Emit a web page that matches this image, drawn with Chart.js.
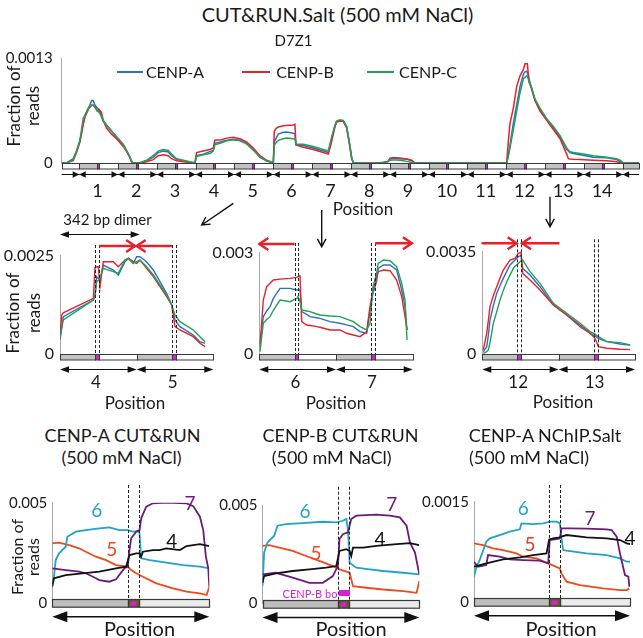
<!DOCTYPE html>
<html>
<head>
<meta charset="utf-8">
<script src="https://cdn.jsdelivr.net/npm/chart.js@4.4.0/dist/chart.umd.min.js"></script>
<style>
body { margin: 0; background: #fff; }
#fig { position: relative; width: 643px; height: 638px; overflow: hidden; font-family: Lato, "Open Sans", sans-serif; color: #1a1a1a; }
#fig canvas { position: absolute; }
.t { position: absolute; white-space: nowrap; line-height: 1; transform: translate(-50%, -50%); }
.leg { position: absolute; height: 2px; }
svg { position: absolute; left: 0; top: 0; pointer-events: none; }
</style>
</head>
<body>
<div id="fig"></div>
<script>
// all read values are in units of 1e-4 (fraction of reads)
const UNIT = 1e-4;

// D7Z1 overview, x = position in monomers (monomer k spans k-1 .. k)
const topNums = [1, 2, 3, 4, 5, 6, 7, 8, 9, 10, 11, 12, 13, 14];
const topX = [-0.45, -0.325, -0.154, -0.068, 0.018, 0.104, 0.147, 0.233, 0.276, 0.319, 0.362, 0.405, 0.465, 0.516, 0.576, 0.619, 0.705, 0.834, 0.963, 1.135, 1.264, 1.307, 1.35, 1.393,
  1.564, 1.736, 1.908, 2.037, 2.165, 2.294, 2.38, 2.509, 2.68, 2.852, 2.981,
  3.024, 3.196, 3.368, 3.454, 3.496, 3.668, 3.797, 3.969, 4.14, 4.312, 4.484, 4.656, 4.828, 5.0,
  5.026, 5.086, 5.129, 5.257, 5.343, 5.515, 5.558, 5.584, 5.773, 6.03, 6.288, 6.417, 6.503, 6.589, 6.632, 6.718, 6.803, 6.889, 6.958, 7.018, 7.061,
  7.662, 7.834, 7.92, 7.962, 8.005, 8.091, 8.177, 8.263, 8.349, 8.435, 8.521, 8.564, 8.649,
  11.011, 11.054, 11.097, 11.183, 11.269, 11.355, 11.441, 11.484, 11.527, 11.544, 11.57, 11.587, 11.656, 11.741, 11.87, 12.042, 12.214, 12.386, 12.557, 12.6, 12.643, 12.729, 12.901, 13.245, 13.588, 13.846, 13.932, 14.017, 14.42];
const topA = [0, 0, 0.53, 1.48, 2.62, 4.9, 5.85, 6.8, 7.18, 7.75, 7.75, 7.18, 6.8, 6.61, 5.66, 5.2, 4.71, 3.95, 3.19, 2.24, 1.1, 0.72, 0.15, 0,
  0, 0.27, 0.72, 1.29, 1.48, 1.37, 0.91, 0.46, 0.27, 0.1, 0,
  0.91, 1.1, 1.41, 1.56, 2.43, 2.62, 2.81, 2.93, 2.81, 2.43, 1.67, 0.72, 0.27, 0,
  2.62, 3.2, 3.57, 3.8, 3.84, 3.69, 3.57, 2.24, 2.17, 1.86, 1.48, 1.29, 3.0, 4.6, 5.09, 5.2, 5.17, 4.52, 2.62, 0.72, 0,
  0, 0.08, 0.15, 0.27, 0.61, 0.68, 0.65, 0.61, 0.55, 0.49, 0.35, 0.27, 0,
  0, 1.0, 2.24, 4.9, 7.18, 9.46, 10.98, 11.29, 11.37, 11.18, 10.8, 10.41, 9.27, 7.75, 6.61, 5.47, 4.33, 3.19, 1.67, 1.48, 1.29, 1.18, 1.03, 0.72, 0.65, 0.42, 0.19, 0, 0];
const topB = [0, 0, 0.3, 1.3, 2.6, 4.71, 5.66, 6.61, 6.88, 7.18, 7.1, 6.99, 6.42, 6.61, 6.23, 5.28, 4.33, 3.57, 3.0, 2.05, 1.1, 0.65, 0.15, 0,
  0, 0.15, 0.42, 0.91, 1.03, 0.91, 0.53, 0.27, 0.15, 0.05, 0,
  1.29, 1.48, 1.67, 1.86, 2.81, 2.89, 3.08, 3.19, 3.0, 2.62, 1.86, 0.91, 0.34, 0.04,
  3.95, 4.33, 4.45, 4.6, 4.65, 4.71, 4.79, 2.24, 1.94, 1.67, 1.29, 1.1, 2.62, 4.52, 5.09, 5.2, 5.17, 4.33, 2.43, 0.53, 0,
  0, 0.05, 0.11, 0.2, 0.46, 0.57, 0.55, 0.53, 0.5, 0.49, 0.4, 0.34, 0,
  0, 2.62, 4.9, 6.8, 9.46, 10.8, 11.55, 12.3, 12.3, 12.3, 10.98, 10.2, 9.08, 7.75, 6.42, 5.28, 4.14, 3.0, 1.1, 0.53, 0.49, 0.46, 0.42, 0.34, 0.27, 0.15, 0, 0, 0];
const topC = [0, 0, 0.4, 1.48, 2.81, 5.5, 5.9, 6.72, 7.0, 7.1, 7.18, 6.88, 6.54, 6.23, 5.85, 5.28, 4.71, 3.95, 3.27, 2.32, 1.18, 0.8, 0.27, 0,
  0.04, 0.34, 0.91, 1.48, 1.67, 1.56, 1.1, 0.53, 0.34, 0.15, 0.04,
  0.8, 1.03, 1.18, 1.48, 2.24, 2.51, 2.74, 2.89, 2.74, 2.36, 1.6, 0.72, 0.27, 0,
  2.24, 2.6, 2.81, 3.0, 3.08, 3.0, 3.0, 2.32, 2.32, 2.05, 1.67, 1.48, 3.19, 4.71, 5.2, 5.36, 5.28, 4.52, 2.62, 0.72, 0,
  0, 0.05, 0.1, 0.19, 0.34, 0.38, 0.38, 0.33, 0.27, 0.2, 0.11, 0.08, 0,
  0, 0.8, 1.86, 4.14, 6.42, 8.7, 10.41, 10.6, 10.8, 10.7, 10.41, 10.0, 9.27, 7.94, 6.8, 5.47, 4.52, 3.38, 1.86, 1.6, 1.41, 1.3, 1.18, 0.91, 0.72, 0.53, 0.35, 0, 0];

// zoom on monomers 4-5
const m1Nums = [4, 5];
const m1X = [3.0, 3.022, 3.043, 3.435, 3.457, 3.478, 3.5, 3.522, 3.565, 3.696, 3.761, 3.848, 3.891, 3.957, 4.0, 4.043, 4.13, 4.217, 4.304, 4.391, 4.457, 4.5, 4.565, 4.739, 4.826, 4.891];
const m1A = [4.05, 7.0, 9.54, 13.77, 14.5, 19.68, 19.2, 18.83, 22.64, 21.37, 20.1, 23.48, 24.32, 23.06, 24.75, 24.75, 23.48, 21.37, 18.41, 15.46, 12.5, 8.7, 7.01, 4.9, 3.21, 2.79];
const m1B = [4.48, 9.97, 10.5, 14.19, 22.04, 22.2, 22.21, 17.15, 23.48, 23.48, 22.21, 23.9, 24.32, 23.48, 23.06, 23.9, 21.79, 19.68, 17.15, 14.61, 12.5, 7.01, 6.17, 4.48, 2.79, 1.94];
const m1C = [3.63, 6.5, 8.7, 13.77, 15.0, 18.41, 18.8, 19.26, 21.79, 20.95, 20.52, 23.9, 24.32, 23.06, 23.48, 23.9, 22.21, 20.1, 17.57, 15.03, 12.5, 9.97, 8.28, 6.17, 4.48, 3.21];

// zoom on monomers 6-7
const m2Nums = [6, 7];
const m2X = [5.009, 5.052, 5.096, 5.14, 5.183, 5.27, 5.4, 5.488, 5.505, 5.531, 5.553, 5.618, 5.661, 5.748, 5.791, 5.922, 6.052, 6.139, 6.226, 6.313, 6.4, 6.443, 6.482, 6.53, 6.551, 6.617, 6.704, 6.791, 6.857, 6.9, 6.926];
const m2A = [3.25, 11.11, 12.8, 14.07, 16.5, 19.48, 19.48, 18.98, 19.0, 18.98, 12.59, 11.8, 11.11, 10.8, 10.62, 9.64, 9.15, 8.7, 8.16, 6.69, 6.2, 13.08, 18.0, 21.44, 25.38, 26.36, 26.36, 24.89, 18.98, 14.07, 7.18];
const m2B = [2.26, 16.03, 19.97, 21.0, 21.93, 22.2, 22.43, 22.72, 22.9, 23.11, 9.64, 8.66, 8.5, 8.16, 8.0, 7.18, 7.18, 6.2, 5.7, 5.21, 6.69, 14.07, 18.98, 22.92, 24.39, 24.89, 24.69, 21.93, 17.02, 11.11, 7.18];
const m2C = [0.79, 9.15, 10.3, 11.11, 13.0, 16.03, 15.54, 16.52, 17.02, 15.54, 13.08, 12.8, 12.59, 11.9, 11.61, 11.3, 11.11, 10.4, 9.64, 8.16, 7.18, 9.15, 19.97, 23.9, 26.85, 27.84, 27.64, 25.87, 20.95, 16.03, 4.23];

// zoom on monomers 12-13
const m3Nums = [12, 13];
const m3X = [11.013, 11.058, 11.079, 11.101, 11.144, 11.189, 11.232, 11.275, 11.32, 11.363, 11.406, 11.429, 11.472, 11.494, 11.507, 11.529, 11.625, 11.756, 11.931, 12.106, 12.28, 12.412, 12.477, 12.52, 12.63, 12.805, 12.936];
const m3A = [0.91, 2.61, 6.5, 11.7, 16.5, 20.8, 23.5, 25.91, 28.3, 30.46, 31.6, 32.16, 33.3, 33.6, 33.86, 29.32, 27.05, 23.07, 16.82, 13.41, 9.43, 7.16, 6.3, 5.45, 4.32, 3.52, 3.18];
const m3B = [1.48, 7.16, 11.5, 16.25, 20.0, 23.07, 26.0, 28.75, 30.5, 32.16, 32.5, 32.73, 34.43, 34.7, 35.0, 27.61, 25.34, 21.93, 16.82, 13.41, 10.0, 7.16, 5.45, 2.61, 2.05, 1.7, 1.6];
const m3C = [0.34, 0.9, 1.48, 4.0, 10.57, 14.5, 18.52, 21.8, 24.77, 27.0, 29.32, 30.0, 31.0, 31.59, 31.9, 32.16, 28.18, 24.2, 17.39, 13.98, 10.57, 7.73, 6.9, 6.02, 4.32, 3.98, 3.18];

// single-monomer profiles, x = bp along the monomer (CENP-B box at 82-94)
const aTealX = [0, 1.8, 3.7, 7.3, 14.6, 16.4, 25.6, 36.5, 51.2, 62.1, 73.1, 82.2, 87.7, 93.2, 95.0, 96.8, 106.0, 124.2, 142.5, 160.8, 171];
const aTealY = [9.67, 13.0, 21.3, 24.7, 28.0, 33.0, 35.5, 36.3, 37.2, 37.7, 36.3, 36.3, 35.5, 35.8, 34.7, 22.2, 21.3, 20.0, 18.8, 18.0, 17.2];
const aPurX = [0, 14.6, 29.2, 36.5, 47.5, 51.2, 62.1, 69.4, 78.6, 82.2, 84.0, 85.9, 91.4, 95.0, 96.8, 102.3, 109.6, 124.2, 146.2, 153.5, 160.8, 164.4, 167.3, 169.9, 171];
const aPurY = [17.2, 16.3, 15.5, 14.7, 12.2, 11.3, 10.5, 11.7, 17.2, 18.0, 26.3, 32.2, 35.5, 36.3, 42.2, 48.0, 49.7, 50.0, 49.7, 48.3, 43.0, 36.3, 23.0, 17.2, 8.0];
const aOrgX = [0, 7.3, 18.3, 29.2, 36.5, 47.5, 58.5, 69.4, 82.2, 85.9, 91.4, 98.7, 113.3, 131.5, 146.2, 160.8, 168.1, 171];
const aOrgY = [29.7, 30.0, 28.8, 27.2, 25.5, 23.0, 21.3, 18.8, 18.0, 16.3, 14.7, 13.0, 9.67, 7.17, 5.5, 4.67, 3.83, 8.0];
const aBlkX = [0, 1.8, 14.6, 32.9, 51.2, 69.4, 80.4, 84.0, 91.4, 95.0, 96.8, 98.7, 109.6, 116.9, 124.2, 138.9, 146.2, 160.8, 171];
const aBlkY = [8.0, 12.2, 13.8, 14.7, 15.5, 17.2, 18.0, 23.8, 24.7, 24.7, 23.0, 25.5, 26.3, 26.3, 27.2, 26.3, 28.3, 29.3, 28.3];

const bTealX = [0, 1.8, 5.5, 12.8, 16.4, 25.6, 43.8, 65.8, 80.4, 87.7, 91.4, 93.2, 95.0, 102.3, 116.9, 131.5, 153.5, 171];
const bTealY = [8.8, 25.9, 31.0, 34.4, 39.5, 40.3, 40.8, 41.5, 41.2, 42.0, 42.9, 37.8, 20.7, 18.2, 17.3, 16.5, 15.6, 14.8];
const bPurX = [0, 14.6, 32.9, 51.2, 65.8, 76.7, 82.2, 84.0, 87.7, 93.2, 96.8, 102.3, 124.2, 138.9, 149.8, 157.1, 160.8, 166.3, 171];
const bPurY = [14.8, 15.6, 13.1, 10.5, 10.5, 13.9, 19.0, 32.7, 35.2, 36.1, 42.9, 44.6, 45.1, 44.6, 43.7, 39.5, 31.0, 25.9, 14.8];
const bOrgX = [0, 7.3, 18.3, 32.9, 47.5, 62.1, 76.7, 84.0, 95.0, 98.7, 113.3, 131.5, 153.5, 168.1, 171];
const bOrgY = [29.3, 29.6, 28.4, 26.7, 24.1, 21.6, 19.0, 17.3, 15.6, 8.8, 8.0, 7.1, 6.3, 5.4, 11.4];
const bBlkX = [0, 1.8, 14.6, 32.9, 51.2, 69.4, 80.4, 84.0, 91.4, 95.0, 96.8, 98.7, 109.6, 124.2, 146.2, 160.8, 171];
const bBlkY = [10.5, 13.9, 15.3, 16.5, 17.3, 18.2, 19.0, 26.7, 27.6, 26.7, 24.1, 28.4, 28.4, 29.3, 30.1, 30.6, 29.6];

const cTealX = [0, 2.6, 6.2, 13.5, 17.2, 28.2, 39.2, 50.2, 52.0, 64.8, 75.8, 83.1, 90.5, 94.1, 95.9, 97.8, 101.4, 123.4, 145.4, 160.0, 167.4, 171];
const cTealY = [3.75, 5.25, 6.25, 9.0, 9.5, 10.0, 10.5, 10.85, 11.75, 11.65, 11.75, 12.0, 12.0, 11.75, 9.5, 7.75, 7.65, 7.25, 7.0, 6.5, 6.0, 6.0];
const cPurX = [0, 4.4, 13.5, 15.4, 28.2, 39.2, 53.8, 72.1, 81.3, 83.1, 94.1, 95.9, 105.1, 123.4, 145.4, 150.9, 156.4, 160.0, 165.5, 169.2, 170.3];
const cPurY = [6.0, 5.25, 5.5, 7.0, 6.75, 6.35, 6.25, 6.15, 5.75, 9.25, 9.5, 11.0, 11.0, 10.95, 10.85, 10.75, 9.75, 7.25, 4.0, 3.75, 2.25];
const cOrgX = [0, 9.9, 20.9, 31.9, 46.5, 53.8, 68.5, 81.3, 94.1, 95.9, 101.4, 116.1, 141.7, 160.0, 167.4, 170.3];
const cOrgY = [8.75, 8.5, 8.0, 7.75, 7.25, 6.75, 6.5, 5.75, 5.0, 4.25, 3.0, 2.5, 2.0, 1.75, 1.75, 2.0];
const cBlkX = [0, 13.5, 31.9, 50.2, 64.8, 79.5, 82.4, 86.8, 94.1, 95.9, 101.4, 123.4, 145.4, 160.0, 167.4, 171];
const cBlkY = [5.25, 5.75, 6.35, 6.65, 7.0, 7.25, 9.35, 9.5, 9.65, 9.75, 10.0, 9.65, 9.5, 9.25, 8.75, 8.65];

const BLUE = '#2e6fc0', RED = '#e8202a', GREEN = '#22a055';
const TEAL = '#22a2c6', PURPLE = '#6a1b7a', ORANGE = '#ee4a1c', BLACK = '#111';
const MAGENTA = '#d81fd8';
// monomer layout: grey part, CENP-B box, white part
const GREY_END = 0.46, BOX_END = 0.51, NUM_AT = 0.47;
const BOX_BP = [82.2, 94.3], MONO_BP = 171;

Chart.defaults.font.family = 'Lato';
const fig = document.getElementById('fig');

function headAt(ctx, x, y, dir, len, half) {
  ctx.beginPath();
  ctx.moveTo(x, y);
  ctx.lineTo(x - dir * len, y - half);
  ctx.lineTo(x - dir * len, y + half);
  ctx.closePath();
  ctx.fill();
}

function decor(o) {
  return {
    id: 'decor',
    afterDatasetsDraw(chart) {
      const ctx = chart.ctx, a = chart.chartArea, xs = chart.scales.x;
      const px = v => xs.getPixelForValue(v);
      const lo = xs.min, hi = xs.max;
      ctx.save();
      if (o.dash) {
        ctx.strokeStyle = '#222';
        ctx.lineWidth = 1;
        ctx.setLineDash([3, 2]);
        o.dash.forEach(v => {
          const X = Math.round(px(v)) + 0.5;
          ctx.beginPath();
          ctx.moveTo(X, a.top + o.dashTop);
          ctx.lineTo(X, a.bottom);
          ctx.stroke();
        });
        ctx.setLineDash([]);
      }
      const rect = (x0, x1, y, h, fill) => {
        x0 = Math.max(x0, lo); x1 = Math.min(x1, hi);
        if (x1 <= x0) return;
        const X0 = Math.round(px(x0)) + 0.5, X1 = Math.round(px(x1)) + 0.5;
        ctx.fillStyle = fill;
        ctx.fillRect(X0, y, X1 - X0, h);
        ctx.strokeRect(X0, y, X1 - X0, h);
      };
      ctx.strokeStyle = '#3a3a3a';
      ctx.lineWidth = 1;
      if (o.strip === 'mono') {
        const y = Math.round(a.bottom) + 0.5;
        for (let k = Math.floor(lo); k < Math.ceil(hi); k++) {
          rect(k, k + GREY_END, y, o.stripH, '#c2c2c2');
          rect(k + BOX_END, k + 1, y, o.stripH, '#ffffff');
          rect(k + GREY_END, k + BOX_END, y, o.stripH, MAGENTA);
        }
      }
      if (o.strip === 'single') {
        const y = Math.round(a.bottom - o.stripH / 2) + 0.5;
        ctx.lineWidth = 1.2;
        rect(0, BOX_BP[0], y, o.stripH, '#bdbdbd');
        rect(BOX_BP[1], MONO_BP, y, o.stripH, '#ececec');
        rect(BOX_BP[0], BOX_BP[1], y, o.stripH, '#625c2a');
        ctx.fillStyle = MAGENTA;
        ctx.fillRect(px(BOX_BP[0]) + 2.5, y + 2, px(BOX_BP[1]) - px(BOX_BP[0]) - 5, o.stripH - 3.5);
        if (o.bbar) {
          ctx.fillStyle = MAGENTA;
          ctx.fillRect(px(BOX_BP[0]) + 1, a.bottom - 13.5, px(BOX_BP[1]) - px(BOX_BP[0]), 6);
        }
      }
      ctx.fillStyle = '#111';
      ctx.strokeStyle = '#111';
      if (o.row === 'bowtie') {
        const y = Math.round(a.bottom + 11) + 0.5;
        ctx.lineWidth = 1;
        ctx.beginPath(); ctx.moveTo(a.left, y); ctx.lineTo(a.right, y); ctx.stroke();
        for (let k = Math.ceil(lo); k <= Math.floor(hi); k++) {
          headAt(ctx, px(k), y, 1, 6.5, 3.2);
          headAt(ctx, px(k), y, -1, 6.5, 3.2);
        }
      }
      if (o.row === 'mono') {
        const y = Math.round(a.bottom + 15) + 0.5;
        ctx.lineWidth = 1.2;
        for (let k = Math.ceil(lo); k < Math.floor(hi); k++) {
          ctx.beginPath(); ctx.moveTo(px(k) + 2, y); ctx.lineTo(px(k + 1) - 2, y); ctx.stroke();
          headAt(ctx, px(k), y, -1, 9, 3.3);
          headAt(ctx, px(k + 1), y, 1, 9, 3.3);
        }
      }
      if (o.row === 'big') {
        const y = a.bottom + 14;
        ctx.lineWidth = 1.6;
        ctx.beginPath(); ctx.moveTo(a.left + 4, y); ctx.lineTo(a.right - 4, y); ctx.stroke();
        headAt(ctx, a.left, y, -1, 15, 5.5);
        headAt(ctx, a.right, y, 1, 15, 5.5);
      }
      if (o.dimer) {
        const [x0, x1, dy] = o.dimer;
        const y = Math.round(a.top + dy) + 0.5;
        ctx.lineWidth = 1;
        ctx.beginPath(); ctx.moveTo(px(x0) + 3, y); ctx.lineTo(px(x1) - 3, y); ctx.stroke();
        headAt(ctx, px(x0), y, -1, 9, 3.3);
        headAt(ctx, px(x1), y, 1, 9, 3.3);
      }
      if (o.red) {
        ctx.strokeStyle = RED;
        ctx.lineWidth = 2.4;
        ctx.lineJoin = 'miter';
        o.red.forEach(([f, t, dy]) => {
          const y = a.top + dy, X0 = px(f), X1 = px(t), d = Math.sign(X1 - X0);
          ctx.beginPath(); ctx.moveTo(X0, y); ctx.lineTo(X1, y); ctx.stroke();
          ctx.beginPath(); ctx.moveTo(X1 - d * 9, y - 6); ctx.lineTo(X1, y); ctx.lineTo(X1 - d * 9, y + 6); ctx.stroke();
        });
      }
      ctx.restore();
    }
  };
}

function makePanel(p) {
  const [bx, by, bw, bh] = p.box;
  const [l, t, r, b] = p.area;
  const c = document.createElement('canvas');
  c.width = bw; c.height = bh;
  c.style.left = bx + 'px'; c.style.top = by + 'px';
  fig.appendChild(c);
  const xt = p.xt || [];
  return new Chart(c, {
    type: 'line',
    data: {
      datasets: p.sets.map(s => ({
        data: s.x.map((v, i) => ({ x: v, y: s.y[i] * UNIT })),
        borderColor: s.color,
        borderWidth: p.lw,
        pointRadius: 0,
        tension: 0,
        order: s.order
      }))
    },
    options: {
      responsive: false,
      animation: false,
      events: [],
      layout: { padding: { left: 0, top: t - by, right: bx + bw - r, bottom: 0 } },
      plugins: { legend: { display: false }, tooltip: { enabled: false } },
      scales: {
        x: {
          type: 'linear', min: p.xr[0], max: p.xr[1],
          grid: { display: false, drawTicks: false },
          border: { display: false },
          afterFit: s => { s.height = by + bh - b; },
          afterBuildTicks: s => { s.ticks = xt.map(v => ({ value: v })); },
          ticks: {
            display: xt.length > 0, autoSkip: false, maxRotation: 0,
            padding: p.xPad || 0, color: '#1a1a1a', font: { size: p.xSize || 17 },
            callback: (v, i) => p.xl[i]
          }
        },
        y: {
          min: 0, max: p.yMax * UNIT,
          grid: { display: false, drawTicks: false },
          border: { color: '#a8a8a8', width: 1 },
          afterFit: s => { s.width = l - bx; },
          afterBuildTicks: s => { s.ticks = [{ value: 0 }, { value: p.yMax * UNIT }]; },
          ticks: { padding: p.yPad, color: '#1a1a1a', font: { size: p.ySize }, callback: (v, i) => p.yl[i] }
        }
      }
    },
    plugins: [decor(p.decor)]
  });
}

const monoTicks = nums => nums.map(k => k - 1 + NUM_AT);
const cenp = (x, a, bb, c) => [
  { x: x, y: a, color: BLUE, order: 2 },
  { x: x, y: bb, color: RED, order: 1 },
  { x: x, y: c, color: GREEN, order: 0 }
];

// overview
makePanel({
  box: [0, 40, 643, 162], area: [61.7, 49, 639, 163], xr: [-0.45, 14.42],
  yMax: 13, yl: ['0', '0.0013'], ySize: 15, yPad: 9, lw: 1.5,
  xt: monoTicks(topNums), xl: topNums.map(String), xPad: 17, xSize: 18,
  sets: cenp(topX, topA, topB, topC),
  decor: { strip: 'mono', stripH: 5.5, row: 'bowtie' }
});

makePanel({
  box: [0, 210, 225, 185], area: [60, 255.7, 213.3, 354.3], xr: [3, 5],
  yMax: 25, yl: ['0', '0.0025'], ySize: 16, yPad: 6, lw: 1.4,
  xt: monoTicks(m1Nums), xl: m1Nums.map(String), xPad: 18, xSize: 17,
  sets: cenp(m1X, m1A, m1B, m1C),
  decor: {
    strip: 'mono', stripH: 5.5, row: 'mono',
    dash: [3 + GREY_END, 3 + BOX_END, 4 + GREY_END, 4 + BOX_END], dashTop: -10.7,
    red: [[3 + BOX_END, 3.98, -9.7], [4 + GREY_END, 4.0, -9.7]],
    dimer: [3, 4.04, -21.7]
  }
});

makePanel({
  box: [198, 210, 222, 185], area: [259.3, 252.7, 412.7, 354.3], xr: [5, 7],
  yMax: 30, yl: ['0', '0.003'], ySize: 16, yPad: 6, lw: 1.4,
  xt: monoTicks(m2Nums), xl: m2Nums.map(String), xPad: 18, xSize: 17,
  sets: cenp(m2X, m2A, m2B, m2C),
  decor: {
    strip: 'mono', stripH: 5.5, row: 'mono',
    dash: [5 + GREY_END, 5 + BOX_END, 6 + GREY_END, 6 + BOX_END], dashTop: -9.7,
    red: [[5 + GREY_END, 5.0, -8.7], [6 + BOX_END, 6.99, -9.4]]
  }
});

makePanel({
  box: [420, 210, 223, 185], area: [482.3, 251.7, 635, 354.3], xr: [11, 13],
  yMax: 35, yl: ['0', '0.0035'], ySize: 16, yPad: 6, lw: 1.4,
  xt: monoTicks(m3Nums), xl: m3Nums.map(String), xPad: 18, xSize: 17,
  sets: cenp(m3X, m3A, m3B, m3C),
  decor: {
    strip: 'mono', stripH: 5.5, row: 'mono',
    dash: [11 + GREY_END, 11 + BOX_END, 12 + GREY_END, 12 + BOX_END], dashTop: -12.4,
    red: [[10.99, 11 + GREY_END - 0.01, -8.4], [12.01, 11 + BOX_END + 0.01, -8.4]]
  }
});

const four = (tx, ty, px, py, ox, oy, kx, ky) => [
  { x: ox, y: oy, color: ORANGE, order: 3 },
  { x: tx, y: ty, color: TEAL, order: 2 },
  { x: px, y: py, color: PURPLE, order: 1 },
  { x: kx, y: ky, color: BLACK, order: 0 }
];

makePanel({
  box: [0, 475, 215, 158], area: [52.3, 502.7, 209.3, 602.7], xr: [0, MONO_BP],
  yMax: 50, yl: ['0', '0.005'], ySize: 15, yPad: 5, lw: 1.8, xl: [],
  sets: four(aTealX, aTealY, aPurX, aPurY, aOrgX, aOrgY, aBlkX, aBlkY),
  decor: { strip: 'single', stripH: 7.7, row: 'big', dash: BOX_BP, dashTop: -17.7 }
});

makePanel({
  box: [213, 475, 212, 158], area: [262.5, 505, 419.3, 603.5], xr: [0, MONO_BP],
  yMax: 50, yl: ['0', '0.005'], ySize: 15, yPad: 5, lw: 1.8, xl: [],
  sets: four(bTealX, bTealY, bPurX, bPurY, bOrgX, bOrgY, bBlkX, bBlkY),
  decor: { strip: 'single', stripH: 7.7, row: 'big', dash: BOX_BP, dashTop: -18.3, bbar: true }
});

makePanel({
  box: [416, 475, 227, 158], area: [474, 501.7, 630, 601.7], xr: [0, MONO_BP],
  yMax: 15, yl: ['0', '0.0015'], ySize: 15, yPad: 5, lw: 1.8, xl: [],
  sets: four(cTealX, cTealY, cPurX, cPurY, cOrgX, cOrgY, cBlkX, cBlkY),
  decor: { strip: 'single', stripH: 7.7, row: 'big', dash: BOX_BP, dashTop: -16.7 }
});

// texts
function txt(s, x, y, size, color, rot) {
  const d = document.createElement('div');
  d.className = 't';
  d.textContent = s;
  d.style.left = x + 'px';
  d.style.top = y + 'px';
  d.style.fontSize = size + 'px';
  if (color) d.style.color = color;
  if (rot) d.style.transform = 'translate(-50%, -50%) rotate(-90deg)';
  fig.appendChild(d);
  return d;
}

txt('CUT&RUN.Salt (500 mM NaCl)', 337.5, 14, 20);
txt('D7Z1', 293.5, 40, 15);
[[BLUE, 116.7, 143.3, 'CENP-A', 175], [RED, 241.7, 270, 'CENP-B', 305], [GREEN, 366.7, 394.3, 'CENP-C', 428]].forEach(([c, x0, x1, s, cx]) => {
  const d = document.createElement('div');
  d.className = 'leg';
  d.style.left = x0 + 'px'; d.style.width = (x1 - x0) + 'px'; d.style.top = '71px'; d.style.background = c;
  fig.appendChild(d);
  txt(s, cx, 72, 16);
});
txt('Fraction of', 13, 106, 17, null, true);
txt('reads', 32, 106, 17, null, true);
txt('Position', 363, 208, 17);

txt('342 bp dimer', 107.5, 218.5, 15);
txt('Fraction of', 12, 313, 17, null, true);
txt('reads', 33, 313, 17, null, true);
txt('Position', 135, 402, 17);
txt('Position', 336, 402, 17);
txt('Position', 563, 401, 17);

txt('CENP-A CUT&RUN', 122.5, 435, 18);
txt('(500 mM NaCl)', 121.5, 457, 18);
txt('CENP-B CUT&RUN', 340.5, 435, 18);
txt('(500 mM NaCl)', 331.7, 457, 18);
txt('CENP-A NChIP.Salt', 545, 435, 18);
txt('(500 mM NaCl)', 529, 457, 18);
txt('Fraction of', 16.7, 557, 16, null, true);
txt('reads', 33.3, 557, 16, null, true);
txt('Position', 139.5, 628, 20);
txt('Position', 351, 628, 20);
txt('Position', 561, 628, 20);

[[96.7, 509.3, '6', TEAL], [190, 501.7, '7', PURPLE], [111.7, 548.3, '5', ORANGE], [171.7, 540, '4', BLACK],
 [305, 510, '6', TEAL], [391.7, 503.3, '7', PURPLE], [316, 551.7, '5', ORANGE], [380, 538.3, '4', BLACK],
 [523.3, 507.3, '6', TEAL], [590, 516.7, '7', PURPLE], [530, 543.3, '5', '#e83a22'], [630, 536.7, '4', BLACK]
].forEach(([x, y, s, c]) => txt(s, x, y, 19, c));
txt('CENP-B bo', 310, 593, 11, MAGENTA);

// pointer arrows from the overview to the zoomed panels
const NS = 'http://www.w3.org/2000/svg';
const svg = document.createElementNS(NS, 'svg');
svg.setAttribute('width', 643); svg.setAttribute('height', 638);
fig.appendChild(svg);
[[233.3, 203.3, 201.7, 225], [321.7, 210, 321.7, 246.7], [550, 196.7, 550, 226.7]].forEach(([x0, y0, x1, y1]) => {
  const ang = Math.atan2(y1 - y0, x1 - x0), L = 9;
  const h1 = [x1 - L * Math.cos(ang - 0.5), y1 - L * Math.sin(ang - 0.5)];
  const h2 = [x1 - L * Math.cos(ang + 0.5), y1 - L * Math.sin(ang + 0.5)];
  const path = document.createElementNS(NS, 'path');
  path.setAttribute('d', `M${x0},${y0}L${x1},${y1}M${h1[0]},${h1[1]}L${x1},${y1}L${h2[0]},${h2[1]}`);
  path.setAttribute('stroke', '#111'); path.setAttribute('stroke-width', '1.4'); path.setAttribute('fill', 'none');
  svg.appendChild(path);
});
</script>
</body>
</html>
